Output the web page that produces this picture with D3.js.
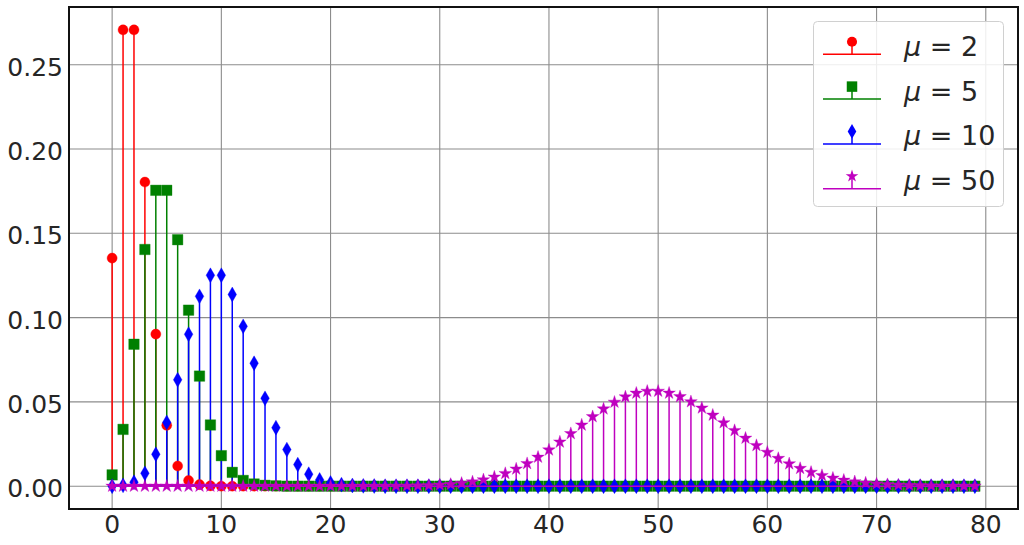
<!DOCTYPE html>
<html>
<head>
<meta charset="utf-8">
<script src="https://cdn.jsdelivr.net/npm/d3@7"></script>
<style>
  body { margin: 0; background: #fff; }
  svg { display: block; font-family: "DejaVu Sans", sans-serif; }
</style>
</head>
<body>
<div id="chart"></div>
<script>
// Poisson pmf values, k = 0..79
const ks = d3.range(0, 80);
const mus = [2, 5, 10, 50];
const pmf2 = [
  0.1353, 0.2707, 0.2707, 0.1804, 0.0902, 0.0361, 0.0120, 0.0034, 0.0009, 0.0002,
  0.0000, 0, 0, 0, 0, 0, 0, 0, 0, 0,
  0, 0, 0, 0, 0, 0, 0, 0, 0, 0,
  0, 0, 0, 0, 0, 0, 0, 0, 0, 0,
  0, 0, 0, 0, 0, 0, 0, 0, 0, 0,
  0, 0, 0, 0, 0, 0, 0, 0, 0, 0,
  0, 0, 0, 0, 0, 0, 0, 0, 0, 0,
  0, 0, 0, 0, 0, 0, 0, 0, 0, 0
];
const pmf5 = [
  0.0067, 0.0337, 0.0842, 0.1404, 0.1755, 0.1755, 0.1462, 0.1044, 0.0653, 0.0363,
  0.0181, 0.0082, 0.0034, 0.0013, 0.0005, 0.0002, 0.0000, 0, 0, 0,
  0, 0, 0, 0, 0, 0, 0, 0, 0, 0,
  0, 0, 0, 0, 0, 0, 0, 0, 0, 0,
  0, 0, 0, 0, 0, 0, 0, 0, 0, 0,
  0, 0, 0, 0, 0, 0, 0, 0, 0, 0,
  0, 0, 0, 0, 0, 0, 0, 0, 0, 0,
  0, 0, 0, 0, 0, 0, 0, 0, 0, 0
];
const pmf10 = [
  0.0000, 0.0005, 0.0023, 0.0076, 0.0189, 0.0378, 0.0631, 0.0901, 0.1126, 0.1251,
  0.1251, 0.1137, 0.0948, 0.0729, 0.0521, 0.0347, 0.0217, 0.0128, 0.0071, 0.0037,
  0.0019, 0.0009, 0.0004, 0.0002, 0.0001, 0, 0, 0, 0, 0,
  0, 0, 0, 0, 0, 0, 0, 0, 0, 0,
  0, 0, 0, 0, 0, 0, 0, 0, 0, 0,
  0, 0, 0, 0, 0, 0, 0, 0, 0, 0,
  0, 0, 0, 0, 0, 0, 0, 0, 0, 0,
  0, 0, 0, 0, 0, 0, 0, 0, 0, 0
];
const pmf50 = [
  0, 0, 0, 0, 0, 0, 0, 0, 0, 0,
  0, 0, 0, 0, 0, 0, 0, 0, 0, 0,
  0, 0, 0, 0.00001, 0.00002, 0.00004, 0.00007, 0.00013, 0.00024, 0.00041,
  0.00068, 0.00109, 0.00171, 0.00259, 0.00380, 0.00543, 0.00755, 0.01020, 0.01342, 0.01720,
  0.02150, 0.02622, 0.03122, 0.03630, 0.04125, 0.04583, 0.04982, 0.05300, 0.05520, 0.05633,
  0.05633, 0.05523, 0.05311, 0.05010, 0.04639, 0.04217, 0.03765, 0.03303, 0.02847, 0.02413,
  0.02011, 0.01648, 0.01329, 0.01055, 0.00824, 0.00634, 0.00480, 0.00358, 0.00264, 0.00191,
  0.00137, 0.00096, 0.00067, 0.00046, 0.00031, 0.00021, 0.00014, 0.00009, 0.00006, 0.00004
];
const xTicks = [0, 10, 20, 30, 40, 50, 60, 70, 80];
const yTicks = [0.00, 0.05, 0.10, 0.15, 0.20, 0.25];

const series = [
  { mu: mus[0], values: pmf2,  color: "#ff0000", symbol: d3.symbolCircle,  size: 80 },
  { mu: mus[1], values: pmf5,  color: "#008000", symbol: d3.symbolSquare,  size: 110 },
  { mu: mus[2], values: pmf10, color: "#0000ff", symbol: d3.symbolDiamond, size: 64 },
  { mu: mus[3], values: pmf50, color: "#bf00bf", symbol: d3.symbolStar,    size: 50 }
];

const width = 1024, height = 545;
const margin = { top: 7, right: 6, bottom: 36, left: 69 };

const svg = d3.select("#chart").append("svg")
  .attr("width", width)
  .attr("height", height);

// matplotlib style 5% padding round the data
const xPad = (d3.max(ks) - d3.min(ks)) * 0.05;
const yMax = d3.max(series, s => d3.max(s.values));
const yPad = yMax * 0.05;

const x = d3.scaleLinear()
  .domain([d3.min(ks) - xPad, d3.max(ks) + xPad])
  .range([margin.left, width - margin.right]);
const y = d3.scaleLinear()
  .domain([-yPad, yMax + yPad])
  .range([height - margin.bottom, margin.top]);

// grid
const grid = svg.append("g").attr("stroke", "#8c8c8c").attr("stroke-width", 1.1);
grid.selectAll(".gx").data(xTicks).enter().append("line")
  .attr("x1", d => x(d)).attr("x2", d => x(d))
  .attr("y1", margin.top).attr("y2", height - margin.bottom);
grid.selectAll(".gy").data(yTicks).enter().append("line")
  .attr("y1", d => y(d)).attr("y2", d => y(d))
  .attr("x1", margin.left).attr("x2", width - margin.right);

// tick labels
svg.append("g").selectAll("text").data(xTicks).enter().append("text")
  .attr("x", d => x(d))
  .attr("y", height - margin.bottom + 24)
  .attr("text-anchor", "middle")
  .attr("font-size", 25)
  .attr("fill", "#262626")
  .text(d => d);
svg.append("g").selectAll("text").data(yTicks).enter().append("text")
  .attr("x", margin.left - 6)
  .attr("y", d => y(d) + 11)
  .attr("text-anchor", "end")
  .attr("font-size", 25)
  .attr("fill", "#262626")
  .text(d3.format(".2f"));

// stems first (collections sit below the marker lines)
series.forEach(s => {
  svg.append("g")
    .attr("stroke", s.color)
    .attr("stroke-width", 1.5)
    .selectAll("line")
    .data(ks).enter().append("line")
    .attr("x1", k => x(k)).attr("x2", k => x(k))
    .attr("y1", y(0)).attr("y2", k => y(s.values[k]));
});

// markers, then the baseline of each series
series.forEach(s => {
  const sym = d3.symbol().type(s.symbol).size(s.size);
  svg.append("g")
    .selectAll("path")
    .data(ks).enter().append("path")
    .attr("d", sym)
    .attr("transform", k => "translate(" + x(k) + "," + y(s.values[k]) + ")")
    .attr("fill", s.color)
    .attr("stroke", s.color)
    .attr("stroke-opacity", 0.35)
    .attr("stroke-width", 1);
  svg.append("line")
    .attr("x1", x(d3.min(ks))).attr("x2", x(d3.max(ks)))
    .attr("y1", y(0)).attr("y2", y(0))
    .attr("stroke", s.color)
    .attr("stroke-width", 1.5);
});

// frame
svg.append("rect")
  .attr("x", margin.left).attr("y", margin.top)
  .attr("width", width - margin.left - margin.right)
  .attr("height", height - margin.top - margin.bottom)
  .attr("fill", "none")
  .attr("stroke", "#111")
  .attr("stroke-width", 2);

// legend
const legend = svg.append("g");
legend.append("rect")
  .attr("x", 813.5).attr("y", 21.5)
  .attr("width", 190).attr("height", 185)
  .attr("rx", 4)
  .attr("fill", "#fff")
  .attr("fill-opacity", 0.85)
  .attr("stroke", "#d0d0d0");

series.forEach((s, i) => {
  const ly = 54.3 + i * 44.8;
  const row = legend.append("g");
  row.append("line")
    .attr("x1", 823).attr("x2", 881)
    .attr("y1", ly).attr("y2", ly)
    .attr("stroke", s.color).attr("stroke-width", 1.5);
  row.append("line")
    .attr("x1", 852).attr("x2", 852)
    .attr("y1", ly).attr("y2", ly - 12.5)
    .attr("stroke", s.color).attr("stroke-width", 1.5);
  row.append("path")
    .attr("d", d3.symbol().type(s.symbol).size(s.size))
    .attr("transform", "translate(852," + (ly - 12.5) + ")")
    .attr("fill", s.color);
  const t = row.append("text")
    .attr("x", 904).attr("y", ly + 1.5)
    .attr("font-size", 27)
    .attr("fill", "#262626");
  t.append("tspan").attr("font-style", "italic").text("μ");
  t.append("tspan").text(" = " + s.mu);
});
</script>
</body>
</html>
